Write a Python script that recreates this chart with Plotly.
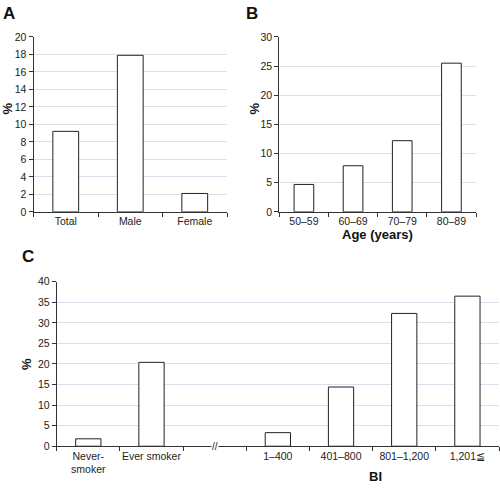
import plotly.graph_objects as go

# Panel A
sex_labels = ["Total", "Male", "Female"]
sex_values = [9.2, 17.9, 2.1]
# Panel B
age_labels = ["50–59", "60–69", "70–79", "80–89"]
age_values = [4.7, 7.9, 12.2, 25.5]
# Panel C
smoke_labels = ["Never-<br>smoker", "Ever smoker", " ", "1–400", "401–800", "801–1,200", "1,201≦"]
smoke_values = [1.8, 20.4, None, 3.3, 14.4, 32.3, 36.5]

W, H = 500, 489
def px(x): return x / W
def py(y): return 1 - y / H

FONT = "Liberation Sans, Arial, sans-serif"
GRID = "#d9e2ec"
AXC = "#333333"
TICKFONT = dict(family=FONT, size=10.5, color="#222")
bar_style = dict(marker=dict(color="white", line=dict(color="#222222", width=1)), width=0.4, showlegend=False, hoverinfo="skip")

fig = go.Figure()
fig.add_trace(go.Bar(x=sex_labels, y=sex_values, xaxis="x", yaxis="y", **bar_style))
fig.add_trace(go.Bar(x=age_labels, y=age_values, xaxis="x2", yaxis="y2", **bar_style))
fig.add_trace(go.Bar(x=smoke_labels, y=smoke_values, xaxis="x3", yaxis="y3", **bar_style))

def xax(domain, anchor, n):
    return dict(domain=domain, anchor=anchor, type="category", range=[-0.5, n - 0.5],
                showline=True, linecolor=AXC, linewidth=1, ticks="outside", tickson="boundaries",
                ticklen=4, tickcolor=AXC, showgrid=False, zeroline=False, tickangle=0,
                tickfont=TICKFONT, fixedrange=True)

def yax(domain, anchor, rng, dtick):
    return dict(domain=domain, anchor=anchor, range=rng, dtick=dtick,
                showline=True, linecolor=AXC, linewidth=1, ticks="outside", ticklen=4, tickcolor=AXC,
                showgrid=True, gridcolor=GRID, gridwidth=1, zeroline=False,
                tickfont=TICKFONT, fixedrange=True)

yA = [py(211), py(31.7)]
fig.update_layout(
    width=W, height=H, margin=dict(l=0, r=0, t=0, b=0),
    paper_bgcolor="white", plot_bgcolor="white",
    xaxis=xax([px(33.5), px(227)], "y", 3),
    yaxis=yax(yA, "x", [0, 20], 2),
    xaxis2=xax([px(279.3), px(476)], "y2", 4),
    yaxis2=yax(yA, "x2", [0, 30], 5),
    xaxis3=xax([px(56.7), px(499)], "y3", 7),
    yaxis3=yax([py(451.3), py(282.7)], "x3", [0, 40], 5),
    bargap=0.6,
)

def ann(x, y, text, size, bold=True, angle=0):
    fig.add_annotation(x=px(x), y=py(y), xref="paper", yref="paper", text=f"<b>{text}</b>" if bold else text,
                       showarrow=False, textangle=angle, xanchor="center", yanchor="middle",
                       font=dict(family=FONT, size=size, color="#111"))

ann(9, 8, "A", 17)
ann(252, 8, "B", 17)
ann(28, 257, "C", 17)
ann(7, 105, "%", 13, angle=-90)
ann(254, 105, "%", 13, angle=-90)
ann(27, 367, "%", 13, angle=-90)
ann(377, 234, "Age (years)", 13)
ann(375, 482, "BI", 13)

# axis break marker
fig.add_annotation(x=" ", y=0, xref="x3", yref="y3", text="//", showarrow=False,
                   xanchor="center", yanchor="middle", bgcolor="white", borderpad=0,
                   font=dict(family=FONT, size=10, color="#222"))

fig.write_html("out.html", config={"displayModeBar": False},
               post_script="document.body.style.margin='0';document.body.style.overflow='hidden';")
